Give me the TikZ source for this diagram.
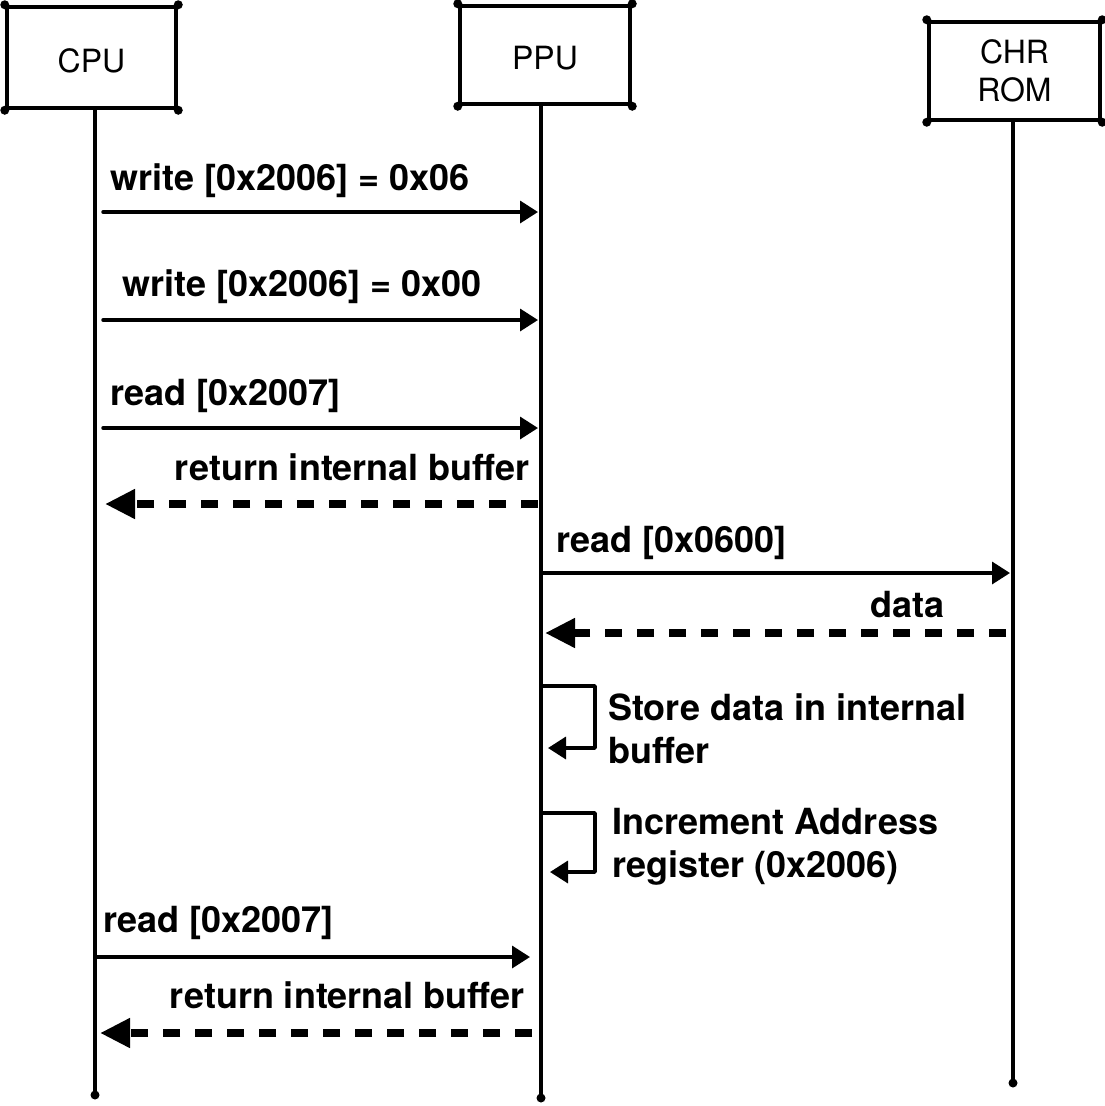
\documentclass[tikz,border=0pt]{standalone}
\usepackage{fontspec}
\setmainfont{TeX Gyre Heros}
\usetikzlibrary{arrows.meta}
\begin{document}
\begin{tikzpicture}[x=1pt,y=-1pt,
  actor/.style={draw,line width=4.5pt,line join=round,inner sep=0pt,
    font=\fontsize{32}{38}\selectfont,align=center},
  onetext/.style={text height=29pt,text depth=0pt},
  life/.style={line width=4pt,line cap=round},
  msg/.style={line width=3.5pt,line cap=round,-{Triangle[length=18pt,width=22pt]}},
  loopmsg/.style={line width=3.5pt,line cap=round,line join=round,-{Triangle[length=18pt,width=22pt]}},
  ret/.style={line width=8pt,dash pattern=on 17pt off 15pt,-{Triangle[length=30pt,width=28pt]}},
  lbl/.style={font=\fontsize{36}{43}\selectfont\bfseries,inner sep=0pt,align=left}
]
\useasboundingbox (0,0) rectangle (1105,1106);

% actors
\node[actor,onetext,minimum width=169pt,minimum height=101pt] (cpu) at (91.5,57.5) {CPU};
\node[actor,onetext,minimum width=170pt,minimum height=98pt] (ppu) at (545,55) {PPU};
\node[actor,minimum width=171pt,minimum height=98pt] (chr) at (1014.5,71) {CHR\\ROM};
\foreach \b in {cpu,ppu,chr}
  \foreach \c in {north west,north east,south west,south east}
    \fill (\b.\c) circle (4.5pt);

% lifelines
\coordinate (cpuend) at (95,1095);
\coordinate (ppuend) at (541,1098);
\coordinate (chrend) at (1013,1083);
\draw[life] (cpu.south -| cpuend) -- (cpuend);
\draw[life] (ppu.south -| ppuend) -- (ppuend);
\draw[life] (chr.south -| chrend) -- (chrend);
\foreach \e in {cpuend,ppuend,chrend}
  \fill (\e) circle (4.5pt);

% message 1
\coordinate (a1) at (103,212); \coordinate (b1) at (538,212);
\draw[msg] (a1) -- (b1);
\node[lbl,anchor=base west] (l1) at (110,190) {write [0x2006] = 0x06};
% message 2
\coordinate (a2) at (103,320); \coordinate (b2) at (538,320);
\draw[msg] (a2) -- (b2);
\node[lbl,anchor=base west] (l2) at (122,296) {write [0x2006] = 0x00};
% message 3
\coordinate (a3) at (103,428); \coordinate (b3) at (538,428);
\draw[msg] (a3) -- (b3);
\node[lbl,anchor=base west] (l3) at (110,405) {read [0x2007]};
% message 4 (return)
\coordinate (a4) at (538,504); \coordinate (b4) at (105,504);
\draw[ret] (a4) -- (b4);
\node[lbl,anchor=base east] (l4) at (530,480) {return internal buffer};
% message 5
\coordinate (a5) at (542,573); \coordinate (b5) at (1010,573);
\draw[msg] (a5) -- (b5);
\node[lbl,anchor=base west] (l5) at (556,552) {read [0x0600]};
% message 6 (return)
\coordinate (a6) at (1006,633); \coordinate (b6) at (545,633);
\draw[ret] (a6) -- (b6);
\node[lbl,anchor=base east] (l6) at (945,617) {data};
% self message 7
\coordinate (a7) at (542,686); \coordinate (c7) at (595,686);
\coordinate (d7) at (595,748); \coordinate (b7) at (548,748);
\draw[loopmsg] (a7) -- (c7) -- (d7) -- (b7);
\node[lbl,anchor=north west] (l7) at (608,693) {Store data in internal\\buffer};
% self message 8
\coordinate (a8) at (542,813); \coordinate (c8) at (595,813);
\coordinate (d8) at (595,872); \coordinate (b8) at (550,872);
\draw[loopmsg] (a8) -- (c8) -- (d8) -- (b8);
\node[lbl,anchor=north west] (l8) at (612,808) {Increment Address\\register (0x2006)};
% message 9
\coordinate (a9) at (97,957); \coordinate (b9) at (530,957);
\draw[msg] (a9) -- (b9);
\node[lbl,anchor=base west] (l9) at (103,932) {read [0x2007]};
% message 10 (return)
\coordinate (a10) at (532,1033); \coordinate (b10) at (100,1033);
\draw[ret] (a10) -- (b10);
\node[lbl,anchor=base east] (l10) at (525,1008) {return internal buffer};
\end{tikzpicture}
\end{document}
